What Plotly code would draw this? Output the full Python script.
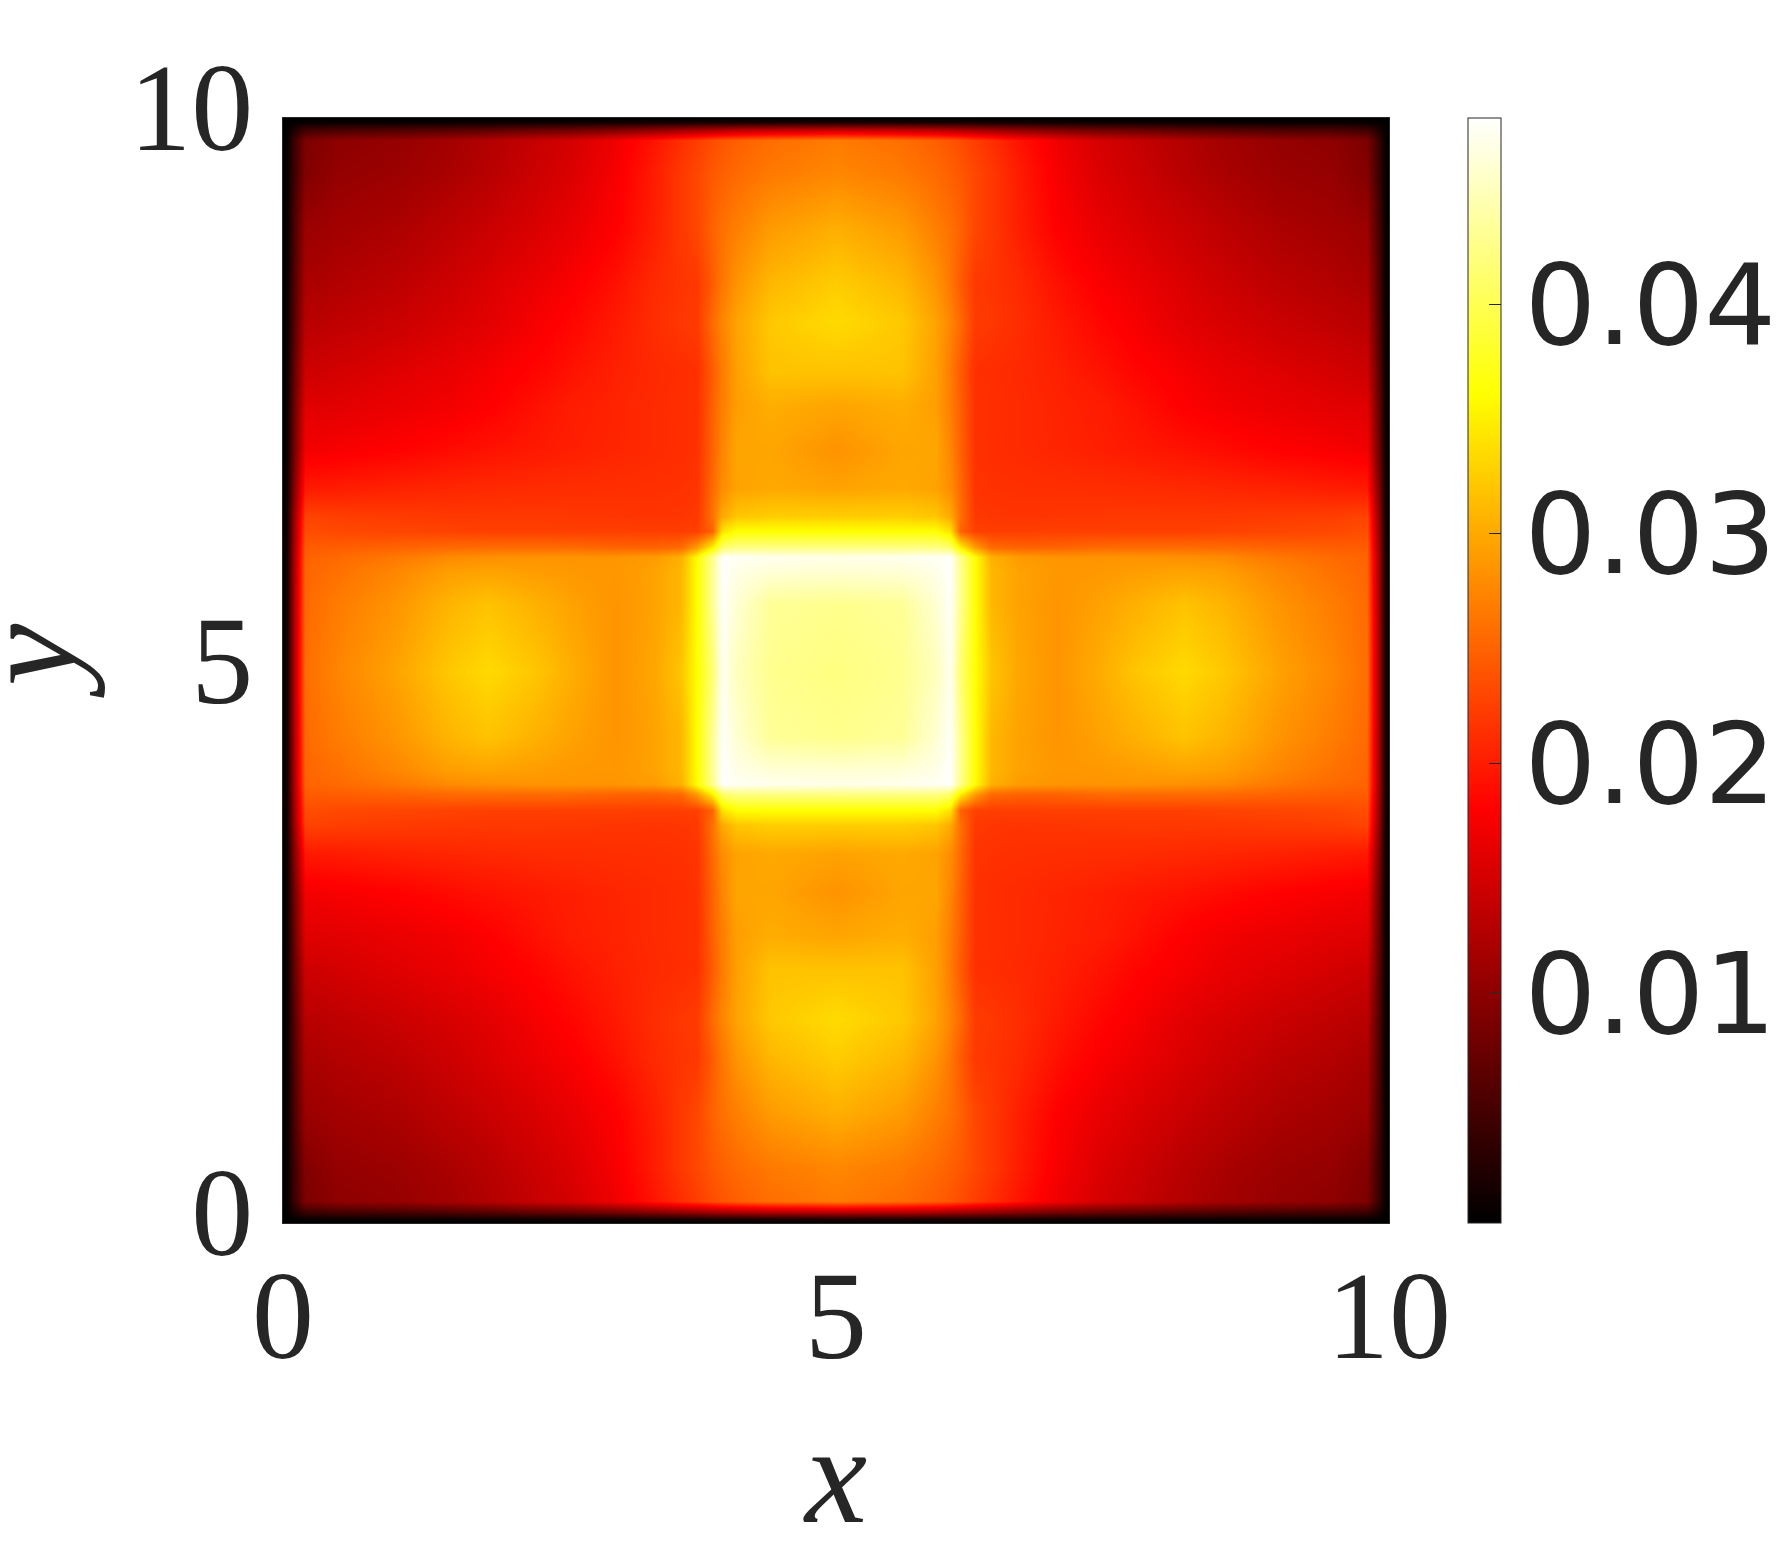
import numpy as np
import plotly.graph_objects as go

# distance from the plot edge (axis units) of each sampled row / column, up to the centre at 5
edge_distance = [0, .04, .1, .2, .5, 1, 1.5, 1.85, 2.3, 2.6, 3, 3.35, 3.6, 3.74, 3.88, 3.97, 4.1, 4.4, 5]

# values (in thousandths), top-left quadrant; rows from the top edge, columns from the left edge
quadrant_milli = [
    [0]*19,
    [0, .1, .3, .6, .7, .7, .8, .9, 1, 1.1, 1.2, 1.4, 1.5, 1.6, 1.6, 1.7, 1.7, 1.8, 1.9],
    [0, .3, 2.0, 4.2, 4.8, 5.1, 5.6, 6, 6.8, 7.2, 8.2, 9.3, 10.2, 10.7, 11.2, 11.5, 11.9, 12.4, 12.9],
    [0, .6, 4.2, 8.8, 10, 10.6, 11.6, 12.6, 14.1, 15, 17, 19.4, 21.3, 22.3, 23.4, 24, 24.7, 25.8, 26.8],
    [0, .6, 4.4, 9.2, 10.5, 11.0, 12.0, 13.0, 14.5, 15.5, 17.5, 20.0, 22.0, 23.0, 24.2, 24.8, 25.5, 26.6, 27.6],
    [0, .8, 5.3, 11.0, 11.5, 12.2, 13.4, 14.3, 15.5, 16.5, 18.0, 20.2, 22.0, 23.0, 25.0, 26.0, 27.0, 29.0, 30.4],
    [0, .8, 5.8, 12.0, 12.6, 13.4, 14.5, 15.5, 16.8, 17.7, 19.2, 21, 21.7, 22.0, 24.5, 26.5, 28.5, 31, 32.5],
    [0, .9, 6.2, 13.0, 13.5, 14.3, 15.3, 16.0, 17.5, 18.4, 19.8, 21.2, 21.9, 22.2, 25.5, 27.5, 29.5, 32.2, 33.5],
    [0, 1, 7, 14.5, 15.0, 15.8, 16.6, 17.4, 18.4, 19.3, 20.3, 20.9, 21.2, 21.4, 24.5, 26.8, 29.3, 31.8, 31.8],
    [0, 1.1, 7.6, 15.8, 16, 16.6, 17.2, 17.9, 19.2, 20.0, 20.5, 21.0, 21.3, 21.5, 24.8, 27, 29.2, 30.3, 29.7],
    [0, 1.2, 8.2, 17.2, 17.6, 18.1, 18.8, 19.3, 19.8, 20.2, 20.6, 21, 21.2, 21.5, 25, 27.5, 29.7, 29.7, 28.4],
    [0, 1.4, 9.5, 19.8, 20, 20.4, 20.7, 20.9, 21.1, 21.2, 21.3, 21.4, 21.5, 21.7, 25.5, 28, 29.5, 30, 29.5],
    [0, 1.6, 10.9, 22.8, 22.4, 22.2, 22.0, 22.0, 22.0, 21.9, 21.8, 21.7, 21.8, 22.0, 26, 30, 32, 32.6, 32.6],
    [0, 1.6, 11.3, 23.5, 23.1, 22.9, 22.7, 22.5, 22.5, 22.5, 22.5, 22.4, 22.4, 22.6, 25, 34, 36.1, 36.1, 36.1],
    [0, 1.7, 11.8, 24.5, 24.6, 25, 25.5, 25.6, 25.6, 25.5, 25, 25, 25.5, 29, 35, 41, 42.2, 42.2, 42.2],
    [0, 1.8, 12, 25, 25.5, 26.5, 27.8, 28.2, 28.5, 28.5, 28.5, 29, 30.5, 36, 42.7, 48, 47.6, 47.3, 47],
    [0, 1.8, 12.1, 25.2, 26, 27.5, 29.2, 29.6, 29.1, 28.8, 28.7, 29.5, 31, 36.1, 43, 48, 47, 46.2, 46],
    [0, 1.8, 12.2, 25.5, 26.8, 28.5, 30.8, 31.8, 30.5, 29.5, 28.5, 29.5, 31, 36.1, 43, 47.8, 46, 43.2, 42.7],
    [0, 1.8, 12.4, 25.8, 27.5, 29.5, 32.2, 33.4, 32, 30.3, 28.5, 29.8, 32, 36.1, 41.5, 47.4, 45, 42.8, 42.1],
]

axis_ticks = [0, 5, 10]
colorbar_ticks = [0.01, 0.02, 0.03, 0.04]
colorbar_labels = ["0.01", "0.02", "0.03", "0.04"]
z_min, z_max = 0.0, 0.0481

# MATLAB "hot"
hot = [[0, "rgb(0,0,0)"], [0.375, "rgb(255,0,0)"], [0.75, "rgb(255,255,0)"], [1, "rgb(255,255,255)"]]

d = np.array(edge_distance)
q = np.array(quadrant_milli) * 1e-3
top = np.hstack([q, q[:, -2::-1]])
z = np.vstack([top, top[-2::-1, :]])
x = np.concatenate([d, 10 - d[-2::-1]])
y = 10 - x  # rows run from the top edge downwards

INK = "#262626"
SERIF = "Liberation Serif"

fig = go.Figure(go.Heatmap(
    x=x, y=y, z=z, zsmooth="best", zmin=z_min, zmax=z_max, colorscale=hot,
    colorbar=dict(
        x=(1468 - 283) / 1106, xanchor="left", xpad=0, ypad=0,
        y=0.5, yanchor="middle", lenmode="pixels", len=1105,
        thicknessmode="pixels", thickness=33,
        outlinecolor=INK, outlinewidth=1,
        ticks="inside", ticklen=12, tickwidth=1, tickcolor=INK,
        tickvals=colorbar_ticks, ticktext=colorbar_labels,
        tickfont=dict(family="DejaVu Sans", size=113, color=INK),
    ),
))

axis = dict(
    range=[0, 10], tickmode="array", tickvals=axis_ticks, ticktext=[str(v) for v in axis_ticks],
    ticks="inside", ticklen=12, tickwidth=1, tickcolor=INK,
    showline=True, mirror=True, linecolor=INK, linewidth=1,
    showgrid=False, zeroline=False, automargin=False, layer="below traces",
    tickfont=dict(family=SERIF, size=124, color=INK),
)
fig.update_xaxes(**axis, ticklabelstandoff=-15,
                 title=dict(text="<i>x</i>", font=dict(family=SERIF, size=140, color=INK), standoff=40))
fig.update_yaxes(**axis, ticklabelstandoff=4, ticklabelshift=-11)

fig.add_annotation(
    text="<i>y</i>", xref="paper", yref="paper", x=-0.2305, y=0.5086,
    xanchor="center", yanchor="middle", textangle=-90, showarrow=False,
    font=dict(family=SERIF, size=140, color=INK),
)

fig.update_layout(
    width=1772, height=1552, autosize=False,
    margin=dict(l=275, r=391, t=110, b=337, pad=0, autoexpand=False),
    paper_bgcolor="white", plot_bgcolor="white",
)
fig.write_html("out.html")
